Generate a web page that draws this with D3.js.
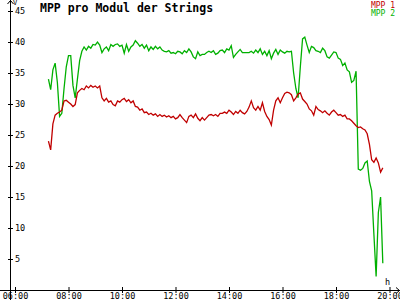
<!DOCTYPE html>
<html>
<head>
<meta charset="utf-8">
<script src="https://cdn.jsdelivr.net/npm/d3@7"></script>
<style>
  body { margin: 0; background: #fff; }
  text { font-family: "DejaVu Sans Mono", monospace; }
</style>
</head>
<body>
<div id="canvas"></div>
<script>
const times = [
  "07:15","07:20","07:25","07:30","07:35","07:40","07:45","07:50","07:55",
  "08:00","08:05","08:10","08:15","08:20","08:25","08:30","08:35","08:40","08:45","08:50","08:55",
  "09:00","09:05","09:10","09:15","09:20","09:25","09:30","09:35","09:40","09:45","09:50","09:55",
  "10:00","10:05","10:10","10:15","10:20","10:25","10:30","10:35","10:40","10:45","10:50","10:55",
  "11:00","11:05","11:10","11:15","11:20","11:25","11:30","11:35","11:40","11:45","11:50","11:55",
  "12:00","12:05","12:10","12:15","12:20","12:25","12:30","12:35","12:40","12:45","12:50","12:55",
  "13:00","13:05","13:10","13:15","13:20","13:25","13:30","13:35","13:40","13:45","13:50","13:55",
  "14:00","14:05","14:10","14:15","14:20","14:25","14:30","14:35","14:40","14:45","14:50","14:55",
  "15:00","15:05","15:10","15:15","15:20","15:25","15:30","15:35","15:40","15:45","15:50","15:55",
  "16:00","16:05","16:10","16:15","16:20","16:25","16:30","16:35","16:40","16:45","16:50","16:55",
  "17:00","17:05","17:10","17:15","17:20","17:25","17:30","17:35","17:40","17:45","17:50","17:55",
  "18:00","18:05","18:10","18:15","18:20","18:25","18:30","18:35","18:40","18:45","18:50","18:55",
  "19:00","19:05","19:10","19:15","19:20","19:25","19:30","19:35","19:40","19:45"
];

const mpp1 = [
  24.0,22.6,26.8,28.2,28.5,28.7,29.0,30.5,30.6,
  30.3,30.0,29.6,29.9,31.8,32.2,32.5,32.3,32.9,32.6,33.0,32.7,
  32.9,32.6,32.9,31.0,30.5,30.9,30.3,30.5,29.9,29.7,30.5,30.3,
  30.7,30.9,30.4,30.7,30.2,30.5,29.6,29.5,29.0,29.2,28.6,28.7,
  28.3,28.5,28.2,28.4,28.0,28.3,28.0,28.2,27.9,28.1,27.8,28.0,
  27.6,27.8,28.3,27.8,27.4,27.0,28.0,28.2,27.8,28.4,27.7,27.3,
  27.8,27.4,27.8,28.2,28.3,28.1,28.3,28.0,28.5,28.5,28.7,28.5,
  29.0,28.7,28.3,28.8,28.5,29.0,28.6,28.4,28.8,29.5,30.5,29.4,
  29.0,29.6,29.0,30.2,28.8,28.0,27.5,26.6,29.0,30.5,31.0,30.2,
  31.0,31.7,31.9,31.8,31.5,30.5,31.0,31.6,31.8,30.8,30.4,30.0,
  29.2,28.9,28.2,29.6,29.1,28.9,28.6,28.9,28.5,28.2,28.7,29.0,
  28.6,28.2,28.3,28.0,28.2,27.6,27.6,27.3,26.9,26.5,26.2,26.3,
  26.0,25.8,25.2,23.5,21.0,20.6,21.3,20.5,19.0,19.7
];

const mpp2 = [
  34.0,32.3,35.5,36.6,33.5,28.0,28.5,32.5,36.0,
  37.8,37.8,33.0,31.0,34.0,37.0,38.5,39.2,38.7,39.3,39.0,39.6,
  39.5,40.0,39.5,38.3,38.9,39.2,38.6,39.6,39.3,39.6,39.7,39.3,
  39.5,38.2,39.6,38.5,39.2,39.5,40.2,39.8,39.3,39.6,39.0,39.5,
  38.6,39.2,38.8,39.3,38.9,39.2,38.7,38.5,38.4,38.6,38.2,38.3,
  38.1,38.5,38.4,38.1,38.6,38.3,38.9,38.4,37.6,37.3,38.4,37.8,
  38.0,38.0,38.3,38.5,38.3,38.6,38.0,38.2,38.6,38.7,38.3,38.9,
  38.7,39.4,37.5,38.0,38.4,38.8,38.3,38.3,38.3,38.3,38.5,38.2,
  38.7,38.3,38.9,38.0,38.5,37.8,38.6,37.3,38.2,38.8,38.0,38.7,
  38.4,38.2,38.5,38.4,38.5,35.0,32.5,31.0,36.0,40.5,40.8,39.5,
  38.3,39.3,39.1,38.6,38.5,38.3,39.0,38.6,37.6,37.4,37.9,38.4,
  38.3,37.4,37.2,36.2,36.6,35.5,35.2,33.5,33.8,35.3,19.5,19.3,
  19.6,20.5,20.8,17.5,16.0,9.0,2.2,12.5,15.0,4.3
];

const seriesNames = ["MPP 1", "MPP 2"];
const seriesColors = ["#c00000", "#00b000"];
const xTicks = [6, 8, 10, 12, 14, 16, 18, 20];
const yTicks = [5, 10, 15, 20, 25, 30, 35, 40, 45];

const width = 400;
const height = 300;

const hours = (s) => {
  const [h, m] = s.split(":").map(Number);
  return h + m / 60;
};
const fmt = (h) => (h < 10 ? "0" : "") + h + ":00";

const svg = d3.select("#canvas").append("svg")
  .attr("width", width)
  .attr("height", height);

const x = d3.scaleLinear().domain([6, 20]).range([15, 389.5]);
const y = d3.scaleLinear().domain([0, 45]).range([290, 11]);

// x axis
const xa = svg.append("g")
  .attr("transform", "translate(0,290)")
  .call(d3.axisBottom(x).tickValues(xTicks).tickFormat(fmt).tickSize(3));
xa.select(".domain").remove();
xa.selectAll(".tick line").attr("y1", -3).attr("y2", 3).attr("stroke", "#000");
xa.selectAll(".tick text")
  .attr("y", 9).attr("dy", 0)
  .style("font-size", "8.5px").attr("fill", "#000");

// y axis
const ya = svg.append("g")
  .attr("transform", "translate(10,0)")
  .call(d3.axisRight(y).tickValues(yTicks).tickSize(3));
ya.select(".domain").remove();
ya.selectAll(".tick line").attr("x1", -2).attr("x2", 3).attr("stroke", "#000");
ya.selectAll(".tick text")
  .attr("x", 5).style("font-size", "8.5px").attr("fill", "#000");

// axis lines with arrows
svg.append("line").attr("x1", 0).attr("x2", 400).attr("y1", 290.5).attr("y2", 290.5)
  .attr("stroke", "#000");
svg.append("path").attr("d", "M396,287.5 L399.5,290.5 L396,293.5")
  .attr("fill", "none").attr("stroke", "#000");
svg.append("line").attr("x1", 10.5).attr("x2", 10.5).attr("y1", 0).attr("y2", 300)
  .attr("stroke", "#000");
svg.append("path").attr("d", "M7.5,4 L10.5,0.5 L13.5,4")
  .attr("fill", "none").attr("stroke", "#000");

svg.append("text").attr("x", 13).attr("y", 5).text("V")
  .style("font-size", "7px");
svg.append("text").attr("x", 385).attr("y", 285).text("h")
  .style("font-size", "8.5px");

// title
svg.append("text").attr("x", 40).attr("y", 12)
  .text("MPP pro Modul der Strings")
  .style("font-size", "11.5px").style("font-weight", "bold");

// legend
seriesNames.forEach((n, i) => {
  svg.append("text")
    .attr("x", 395).attr("y", 7.5 + i * 8)
    .attr("text-anchor", "end")
    .attr("fill", seriesColors[i])
    .style("font-size", "8px")
    .text(n);
});

const line = d3.line()
  .x((d) => x(hours(d.t)))
  .y((d) => y(d.v));

[mpp2, mpp1].forEach((vals, k) => {
  const idx = k === 0 ? 1 : 0;
  const data = times.map((t, i) => ({ t: t, v: vals[i] }));
  svg.append("path")
    .datum(data)
    .attr("fill", "none")
    .attr("stroke", seriesColors[idx])
    .attr("stroke-width", 1.3)
    .attr("d", line);
});
</script>
</body>
</html>
